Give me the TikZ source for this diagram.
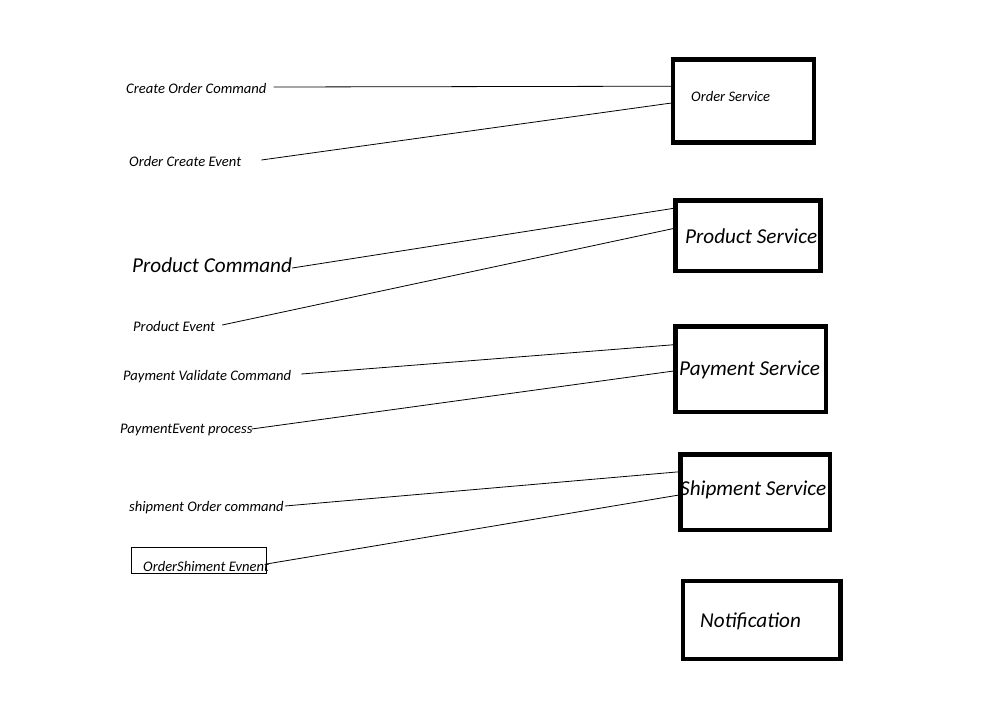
\documentclass[tikz,border=0pt]{standalone}
\usepackage{fontspec}
\setmainfont{Carlito}
\usetikzlibrary{calc}
\begin{document}
\begin{tikzpicture}[x=1pt,y=-1pt,
  svcbox/.style={draw, line width=4.5pt, inner sep=0pt},
  lbl/.style={anchor=base west, inner sep=0pt, font=\itshape\fontsize{14.6}{16}\selectfont},
  biglbl/.style={anchor=base west, inner sep=0pt, font=\itshape\fontsize{21.2}{24}\selectfont},
  link/.style={draw, line width=0.8pt}]
\useasboundingbox[fill=white] (0,0) rectangle (1001,718);

% service boxes
\node[svcbox, minimum width=141pt, minimum height=83pt] (order) at (743.5,101) {};
\node[svcbox, minimum width=145pt, minimum height=70.5pt] (product) at (748,235.75) {};
\node[svcbox, minimum width=150.5pt, minimum height=85.5pt] (payment) at (750.75,369.25) {};
\node[svcbox, minimum width=149.5pt, minimum height=75.5pt] (shipment) at (755.25,492.25) {};
\node[svcbox, minimum width=157.5pt, minimum height=78pt] (notify) at (761.75,620) {};

% box captions
\node[lbl] (tOrder) at (691,101) {Order Service};
\node[biglbl] (tProduct) at (685,243) {Product Service};
\node[biglbl] (tPayment) at (679,375) {Payment Service};
\node[biglbl] (tShipment) at (680,495) {Shipment Service};
\node[biglbl] (tNotify) at (700,627) {Notification};

% commands and events
\node[lbl] (c1) at (126,93) {Create Order Command};
\node[lbl] (e1) at (129,166) {Order Create Event};
\node[biglbl] (c2) at (132,272) {Product Command};
\node[lbl] (e2) at (133,331) {Product Event};
\node[lbl] (c3) at (123,380) {Payment Validate Command};
\node[lbl] (e3) at (120,433) {PaymentEvent process};
\node[lbl] (c4) at (129,511) {shipment Order command};
\node[draw, line width=0.8pt, minimum width=135pt, minimum height=26pt, inner sep=0pt] (evbox) at (198.5,560) {};
\node[lbl] (e4) at (143,571) {OrderShiment Evnent};

% connectors
\draw[link] ($(c1.base east)+(7,-6)$) -- ($(order.north west)!0.331!(order.south west)$);
\draw[link] ($(e1.base east)+(20,-6)$) -- ($(order.north west)!0.524!(order.south west)$);
\draw[link] ($(c2.base east)+(0,-4)$) -- ($(product.north west)!0.135!(product.south west)$);
\draw[link] ($(e2.base east)+(7,-6)$) -- ($(product.north west)!0.404!(product.south west)$);
\draw[link] ($(c3.base east)+(10,-6)$) -- ($(payment.north west)!0.228!(payment.south west)$);
\draw[link] ($(e3.base east)+(-1,-4)$) -- ($(payment.north west)!0.52!(payment.south west)$);
\draw[link] ($(c4.base east)+(1,-5)$) -- ($(shipment.north west)!0.245!(shipment.south west)$);
\draw[link] ($(evbox.east)+(0,4)$) -- ($(shipment.north west)!0.536!(shipment.south west)$);
\end{tikzpicture}
\end{document}
